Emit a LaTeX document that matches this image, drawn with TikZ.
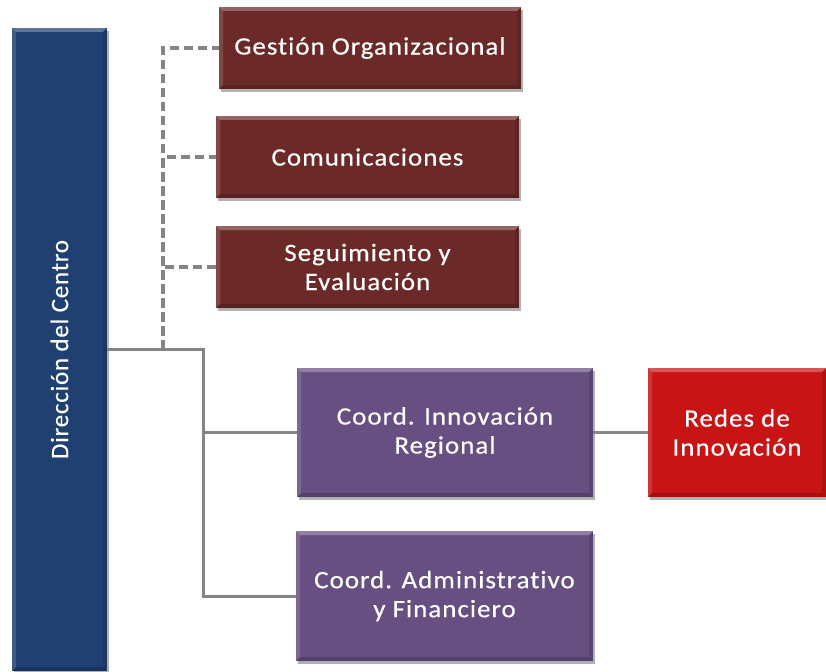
\documentclass[tikz,border=0pt]{standalone}
\usepackage{fontspec}
\setmainfont{Carlito}[Ligatures=NoCommon,LetterSpace=4,FakeStretch=1.08,FakeBold=0.4]
\newfontfamily\sidefont{Carlito}[Ligatures=NoCommon,LetterSpace=3,FakeBold=0.4]
\usetikzlibrary{calc,shadows}

\definecolor{dirblue}{HTML}{1F4070}
\definecolor{staffred}{HTML}{6B2A28}
\definecolor{coordpurple}{HTML}{674F82}
\definecolor{netred}{HTML}{C81414}
\definecolor{linkgray}{HTML}{858585}

\tikzset{
  unitbox/.style={
    rectangle, draw=none, fill=#1, text=white, align=center,
    inner sep=0pt, font=\fontsize{25}{29}\selectfont,
    drop shadow={shadow xshift=1.5pt, shadow yshift=-3pt, opacity=.30, fill=black},
    path picture={
      \fill[white,opacity=.28]
        (path picture bounding box.north west) -- (path picture bounding box.north east)
        -- ($(path picture bounding box.north east)+(-4pt,-4pt)$)
        -- ($(path picture bounding box.north west)+(4pt,-4pt)$) -- cycle;
      \fill[white,opacity=.14]
        (path picture bounding box.north west) -- (path picture bounding box.south west)
        -- ($(path picture bounding box.south west)+(4pt,4pt)$)
        -- ($(path picture bounding box.north west)+(4pt,-4pt)$) -- cycle;
      \fill[black,opacity=.18]
        (path picture bounding box.south west) -- (path picture bounding box.south east)
        -- ($(path picture bounding box.south east)+(-4pt,4pt)$)
        -- ($(path picture bounding box.south west)+(4pt,4pt)$) -- cycle;
      \fill[black,opacity=.12]
        (path picture bounding box.north east) -- (path picture bounding box.south east)
        -- ($(path picture bounding box.south east)+(-4pt,4pt)$)
        -- ($(path picture bounding box.north east)+(-4pt,-4pt)$) -- cycle;
    }},
  staffline/.style={draw=linkgray, line width=3.5pt, dash pattern=on 9pt off 5pt},
  mainline/.style={draw=linkgray, line width=3pt},
}

\begin{document}
\begin{tikzpicture}[x=1pt, y=-1pt]
  \useasboundingbox (0,0) rectangle (826,671);

  % head of the centre
  \node[unitbox=dirblue, minimum width=95pt, minimum height=643pt]
    (dir) at (59.5,349.5) {};
  \node[text=white, rotate=90, font=\sidefont\fontsize{25}{29}\selectfont]
    (dirlabel) at (dir.center) {Dirección del Centro};

  % staff units
  \node[unitbox=staffred, minimum width=302pt, minimum height=82pt]
    (ges) at (370,48) {Gestión Organizacional};
  \node[unitbox=staffred, minimum width=303pt, minimum height=82pt]
    (com) at (367.5,157) {Comunicaciones};
  \node[unitbox=staffred, minimum width=303pt, minimum height=82pt]
    (seg) at (367.5,267) {Seguimiento y\\Evaluación};

  % line coordinations
  \node[unitbox=coordpurple, minimum width=296pt, minimum height=129pt]
    (cir) at (445,432.5) {Coord. Innovación\\Regional};
  \node[unitbox=coordpurple, minimum width=297pt, minimum height=130pt]
    (cad) at (444.5,596) {Coord. Administrativo\\y Financiero};
  \node[unitbox=netred, minimum width=178pt, minimum height=129pt]
    (red) at (737,432.5) {Redes de\\Innovación};

  % junctions
  \coordinate (dj) at (163,349.5);
  \coordinate (sj) at (203,349.5);

  % staff connections
  \draw[staffline] (dir.east) -- (dj) |- (ges.west);
  \draw[staffline] (dj) |- (com.west);
  \draw[staffline] (dj) |- (seg.west);

  % line connections
  \draw[mainline] (dir.east) -- (sj) |- (cir.west);
  \draw[mainline] (sj) |- (cad.west);
  \draw[mainline] (cir.east) -- (red.west);
\end{tikzpicture}
\end{document}
